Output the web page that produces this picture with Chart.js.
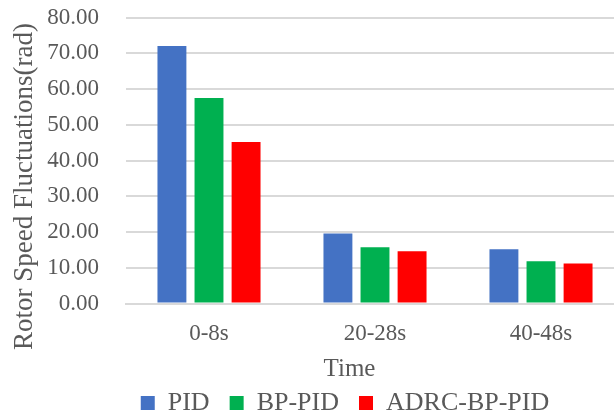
<!DOCTYPE html>
<html>
<head>
<meta charset="utf-8">
<script src="https://cdn.jsdelivr.net/npm/chart.js@4/dist/chart.umd.min.js"></script>
<style>
  html, body { margin: 0; padding: 0; background: #fff; overflow: hidden; }
  #wrap { width: 614px; height: 415px; overflow: hidden; }
  canvas { display: block; }
</style>
</head>
<body>
<div id="wrap"><canvas id="c" width="624" height="415"></canvas></div>
<script>
// Time windows and rotor speed fluctuation per controller
const categories = ['0-8s', '20-28s', '40-48s'];
const pidValues = [72.0, 19.6, 15.2];
const bpPidValues = [57.5, 15.7, 11.8];
const adrcBpPidValues = [45.2, 14.6, 11.2];
const yTicks = [0, 10, 20, 30, 40, 50, 60, 70, 80];

const serif = "'Liberation Serif', 'Times New Roman', serif";
const textColor = '#595959';
const gridColor = '#d9d9d9';

// Axis titles, placed by hand so they sit where the layout wants them
const axisTitles = {
  id: 'axisTitles',
  afterDraw(chart) {
    const ctx = chart.ctx;
    ctx.save();
    ctx.fillStyle = textColor;
    ctx.textAlign = 'center';
    ctx.textBaseline = 'alphabetic';

    ctx.font = '27px ' + serif;
    ctx.save();
    ctx.translate(31.5, 186.5);
    ctx.rotate(-Math.PI / 2);
    ctx.fillText('Rotor Speed Fluctuations(rad)', 0, 0);
    ctx.restore();

    ctx.font = '25px ' + serif;
    ctx.fillText('Time', 349.5, 376);
    ctx.restore();
  }
};

// Nudge the legend row to the right
const legendShift = {
  id: 'legendShift',
  afterLayout(chart) {
    chart.legend.left += 66;
  }
};

new Chart(document.getElementById('c'), {
  type: 'bar',
  data: {
    labels: categories,
    datasets: [
      { label: 'PID', data: pidValues, backgroundColor: '#4472C4' },
      { label: 'BP-PID', data: bpPidValues, backgroundColor: '#00B050' },
      { label: 'ADRC-BP-PID', data: adrcBpPidValues, backgroundColor: '#FF0000' }
    ]
  },
  plugins: [axisTitles, legendShift],
  options: {
    responsive: false,
    animation: false,
    devicePixelRatio: 1,
    layout: { padding: { top: 17.5, right: 0, bottom: 0, left: 0 } },
    datasets: { bar: { categoryPercentage: 0.67, barPercentage: 0.78 } },
    plugins: {
      tooltip: { enabled: false },
      legend: {
        position: 'bottom',
        maxHeight: 45,
        labels: {
          boxWidth: 14,
          boxHeight: 14,
          padding: 20,
          color: textColor,
          font: { family: serif, size: 26 }
        }
      }
    },
    scales: {
      x: {
        afterFit: (scale) => { scale.height = 66.5; },
        grid: { display: false, drawTicks: false },
        border: { display: true, color: gridColor, width: 2 },
        ticks: { autoSkip: false, maxRotation: 0, color: textColor, font: { family: serif, size: 23 }, padding: 17 },
        title: { display: false }
      },
      y: {
        min: 0,
        max: 80,
        afterBuildTicks: (scale) => { scale.ticks = yTicks.map(v => ({ value: v })); },
        afterFit: (scale) => {
          scale.width = 126;
          scale.paddingTop = 0;
          scale.paddingBottom = 0;
        },
        grid: { color: gridColor, lineWidth: 2, drawTicks: false },
        border: { display: false },
        ticks: {
          autoSkip: false,
          color: textColor,
          padding: 27,
          font: { family: serif, size: 23 },
          callback: (v) => Number(v).toFixed(2)
        },
        title: { display: false }
      }
    }
  }
});
</script>
</body>
</html>
